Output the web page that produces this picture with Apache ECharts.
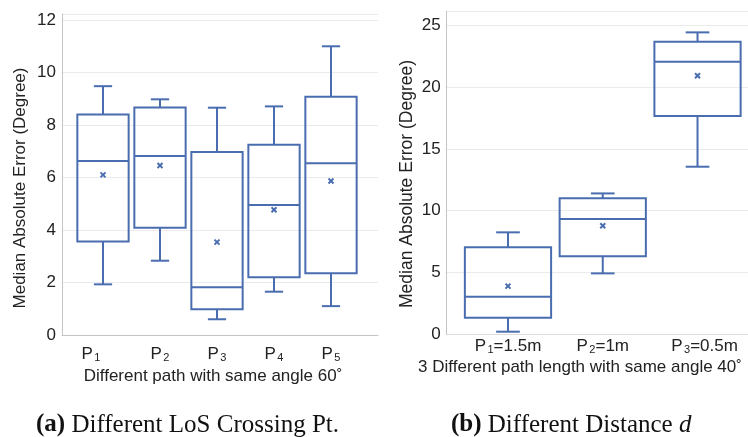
<!DOCTYPE html>
<html><head><meta charset="utf-8">
<script src="https://cdn.jsdelivr.net/npm/echarts@6/dist/echarts.min.js"></script>
<style>html,body{margin:0;padding:0;background:#fff}#c{width:748px;height:437px}</style>
</head><body><div id="c"></div>
<script>
// ---- Panel (a): different LoS crossing points ----
const catsA = ['P1', 'P2', 'P3', 'P4', 'P5'];
const subsA = ['1', '2', '3', '4', '5'];
const lowA  = [1.93, 2.83, 0.60, 1.65, 1.10];
const q1A   = [3.56, 4.09, 0.98, 2.20, 2.35];
const medA  = [6.63, 6.82, 1.82, 4.95, 6.54];
const q3A   = [8.40, 8.67, 6.97, 7.25, 9.08];
const highA = [9.48, 8.98, 8.66, 8.71, 11.00];
const meanA = [6.10, 6.46, 3.54, 4.77, 5.87];
const ticksA = [0, 2, 4, 6, 8, 10, 12];

// ---- Panel (b): different distance d ----
const catsB = ['P1=1.5m', 'P2=1m', 'P3=0.5m'];
const subsB = ['1', '2', '3'];
const sufB  = ['=1.5m', '=1m', '=0.5m'];
const lowB  = [0.21, 4.93, 13.56];
const q1B   = [1.34, 6.31, 17.66];
const medB  = [3.04, 9.33, 22.06];
const q3B   = [7.04, 11.00, 23.67];
const highB = [8.25, 11.40, 24.43];
const meanB = [3.90, 8.79, 20.92];
const ticksB = [0, 5, 10, 15, 20, 25];

const BLUE = '#4a6db0';
const FONT = 'Liberation Sans, Arial, sans-serif';
const TXT = '#222';

function rows(low, q1, med, q3, high, mean) {
  return low.map((v, i) => [i, v, q1[i], med[i], q3[i], high[i], mean[i]]);
}

function makeRender(boxRatio, capRatio) {
  return function (params, api) {
    const i = api.value(0);
    const band = api.size([1, 0])[0];
    const cx = api.coord([i, 0])[0];
    const y = k => api.coord([i, api.value(k)])[1];
    const yLow = y(1), yQ1 = y(2), yMed = y(3), yQ3 = y(4), yHigh = y(5), yMean = y(6);
    const bw = band * boxRatio / 2, cw = band * capRatio / 2, m = 2.5;
    const st = { stroke: BLUE, lineWidth: 2, fill: null };
    const line = (x1, y1, x2, y2) => ({ type: 'line', shape: { x1, y1, x2, y2 }, style: st });
    return {
      type: 'group',
      children: [
        { type: 'rect', shape: { x: cx - bw, y: yQ3, width: 2 * bw, height: yQ1 - yQ3 }, style: st },
        line(cx - bw, yMed, cx + bw, yMed),
        line(cx, yQ3, cx, yHigh),
        line(cx - cw, yHigh, cx + cw, yHigh),
        line(cx, yQ1, cx, yLow),
        line(cx - cw, yLow, cx + cw, yLow),
        line(cx - m, yMean - m, cx + m, yMean + m),
        line(cx - m, yMean + m, cx + m, yMean - m)
      ]
    };
  };
}

const maxA = 12.23, maxB = 26.16;
const gridLine = { show: true, lineStyle: { color: '#ebebeb', width: 1 } };
const axLine = { show: true, lineStyle: { color: '#c4c4c4', width: 1 } };

const richSub = {
  p: { fontSize: 17, fontFamily: FONT, color: TXT, lineHeight: 18 },
  s: { fontSize: 11, fontFamily: FONT, color: TXT, lineHeight: 12, padding: [7, 0, 0, 1.5], verticalAlign: 'top' },
  s0: { fontSize: 11, fontFamily: FONT, color: TXT, lineHeight: 12, padding: [7, 24, 0, 1.5], verticalAlign: 'top' },
  p2: { fontSize: 17, fontFamily: FONT, color: TXT, lineHeight: 18, padding: [0, 0, 0, 14] }
};

const option = {
  animation: false,
  backgroundColor: '#fff',
  grid: [
    { left: 62, right: 370, top: 14, bottom: 102 },
    { left: 74.5, right: 388.5, top: 14, bottom: 102 },
    { left: 446.7, right: 0, top: 11, bottom: 102.7 },
    { left: 460.6, right: 3.1, top: 11, bottom: 102.7 }
  ],
  xAxis: [
    { gridIndex: 0, type: 'value', position: 'top', min: 0, max: 1, axisLine: axLine,
      axisTick: { show: false }, axisLabel: { show: false }, splitLine: { show: false } },
    { gridIndex: 1, type: 'category', data: catsA, boundaryGap: true,
      axisLine: { show: false }, axisTick: { show: false }, splitLine: { show: false },
      axisLabel: { interval: 0, hideOverlap: false, margin: 10.5, rich: richSub,
        formatter: (v, idx) => idx === 0 ? '{p|P}{s0|' + subsA[idx] + '}' : '{p|P}{s|' + subsA[idx] + '}' } },
    { gridIndex: 2, type: 'value', position: 'top', min: 0, max: 1, axisLine: { show: true, lineStyle: { color: '#dcdcdc' } },
      axisTick: { show: false }, axisLabel: { show: false }, splitLine: { show: false } },
    { gridIndex: 3, type: 'category', data: catsB, boundaryGap: true,
      axisLine: { show: false }, axisTick: { show: false }, splitLine: { show: false },
      axisLabel: { interval: 0, hideOverlap: false, margin: 3, rich: richSub,
        formatter: (v, idx) => (idx === 2 ? '{p2|P}' : '{p|P}') + '{s|' + subsB[idx] + '}{p|' + sufB[idx] + '}' } }
  ],
  yAxis: [
    { gridIndex: 0, type: 'value', min: 0, max: maxA, interval: 2, axisLine: axLine,
      axisTick: { show: false }, splitLine: gridLine,
      axisLabel: { margin: 6, fontSize: 17, fontFamily: FONT, color: TXT,
        formatter: v => ticksA.indexOf(v) >= 0 ? String(v) : '' } },
    { gridIndex: 1, type: 'value', min: 0, max: maxA, show: false },
    { gridIndex: 2, type: 'value', min: 0, max: maxB, interval: 5, axisLine: axLine,
      axisTick: { show: false }, splitLine: gridLine,
      axisLabel: { margin: 6, fontSize: 17, fontFamily: FONT, color: TXT,
        formatter: v => ticksB.indexOf(v) >= 0 ? String(v) : '' } },
    { gridIndex: 3, type: 'value', min: 0, max: maxB, show: false }
  ],
  series: [
    { type: 'custom', xAxisIndex: 1, yAxisIndex: 1, renderItem: makeRender(0.9, 0.32),
      encode: { x: 0, y: [1, 2, 3, 4, 5, 6] }, data: rows(lowA, q1A, medA, q3A, highA, meanA) },
    { type: 'custom', xAxisIndex: 3, yAxisIndex: 3, renderItem: makeRender(0.91, 0.25),
      encode: { x: 0, y: [1, 2, 3, 4, 5, 6] }, data: rows(lowB, q1B, medB, q3B, highB, meanB) }
  ],
  graphic: [
    { type: 'text', x: 20, y: 188, rotation: Math.PI / 2,
      style: { text: 'Median Absolute Error (Degree)', font: '17px ' + FONT, fill: TXT, align: 'center', verticalAlign: 'middle' } },
    { type: 'text', x: 407, y: 184, rotation: Math.PI / 2,
      style: { text: 'Median Absolute Error (Degree)', font: '17.5px ' + FONT, fill: TXT, align: 'center', verticalAlign: 'middle' } },
    { type: 'text', x: 213, y: 376,
      style: { text: 'Different path with same angle 60˚', font: '17px ' + FONT, fill: TXT, align: 'center', verticalAlign: 'middle' } },
    { type: 'text', x: 580, y: 367,
      style: { text: '3 Different path length with same angle 40˚', font: '17px ' + FONT, fill: TXT, align: 'center', verticalAlign: 'middle' } },
    { type: 'text', x: 36, y: 425,
      style: { text: '{b|(a)} Different LoS Crossing Pt.', font: '25px Liberation Serif, serif', fill: '#111', align: 'left', verticalAlign: 'middle',
        rich: { b: { font: 'bold 25px Liberation Serif, serif', fill: '#111' } } } },
    { type: 'text', x: 451, y: 425,
      style: { text: '{b|(b)} Different Distance {i|d}', font: '25px Liberation Serif, serif', fill: '#111', align: 'left', verticalAlign: 'middle',
        rich: { b: { font: 'bold 25px Liberation Serif, serif', fill: '#111' }, i: { font: 'italic 25px Liberation Serif, serif', fill: '#111' } } } }
  ]
};

const chart = echarts.init(document.getElementById('c'), null, { renderer: 'canvas' });
chart.setOption(option);
</script>
</body></html>
